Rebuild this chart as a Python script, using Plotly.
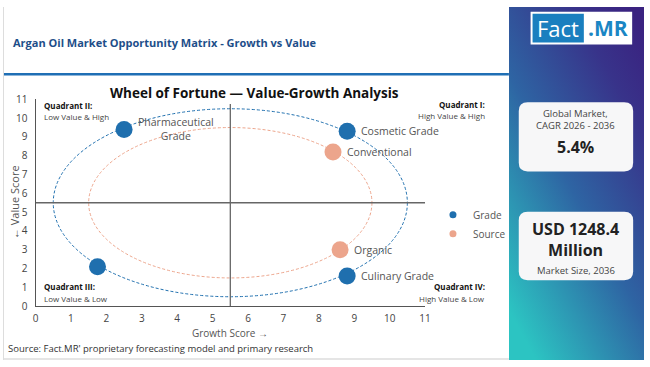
import base64
import plotly.graph_objects as go

W, H = 650, 367

# ---------------- data ----------------
grade_labels = ["Pharmaceutical<br>Grade", "Cosmetic Grade", "Culinary Grade", ""]
grade_x = [2.5, 8.8, 8.8, 1.75]
grade_y = [9.4, 9.3, 1.6, 2.1]

source_labels = ["Conventional", "Organic"]
source_x = [8.4, 8.6]
source_y = [8.2, 3.0]

tick_values = list(range(0, 12))
ring_center = 5.5
grade_ring_radius = 5.0
source_ring_radius = 4.0
quadrant_split = 5.5

quadrants = [
    ("Quadrant II:", "Low Value & High", "left", 40, 102),
    ("Quadrant I:", "High Value & High", "right", 491, 101),
    ("Quadrant III:", "Low Value & Low", "left", 40, 291),
    ("Quadrant IV:", "High Value & Low", "right", 491, 291),
]

cagr_text = "5.4%"
size_text = "USD 1248.4<br>Million"

# ---------------- style ----------------
BLUE = "#1f6fae"
ORANGE = "#eca58c"
FONT = "Open Sans"


def px(x):
    return x / W


def py(y):
    return 1 - y / H


def rounded_rect(x0, y0, x1, y1, r):
    rx, ry = r / W, r / H
    X0, X1 = px(x0), px(x1)
    Y0, Y1 = py(y0), py(y1)  # Y0 top (bigger), Y1 bottom
    return (
        f"M {X0+rx},{Y0} L {X1-rx},{Y0} Q {X1},{Y0} {X1},{Y0-ry} "
        f"L {X1},{Y1+ry} Q {X1},{Y1} {X1-rx},{Y1} "
        f"L {X0+rx},{Y1} Q {X0},{Y1} {X0},{Y1+ry} "
        f"L {X0},{Y0-ry} Q {X0},{Y0} {X0+rx},{Y0} Z"
    )


fig = go.Figure()

fig.add_trace(go.Scatter(x=grade_x, y=grade_y, mode="markers", name="Grade",
                         marker=dict(size=17, color=BLUE), showlegend=False,
                         hovertext=grade_labels))
fig.add_trace(go.Scatter(x=source_x, y=source_y, mode="markers", name="Source",
                         marker=dict(size=17, color=ORANGE), showlegend=False,
                         hovertext=source_labels))
# legend entries with small symbols
fig.add_trace(go.Scatter(x=[None], y=[None], mode="markers", name="Grade",
                         marker=dict(size=7, color=BLUE)))
fig.add_trace(go.Scatter(x=[None], y=[None], mode="markers", name="Source",
                         marker=dict(size=7, color=ORANGE)))

annotations = []
for lab, x, y in list(zip(grade_labels, grade_x, grade_y)) + list(zip(source_labels, source_x, source_y)):
    if lab:
        annotations.append(dict(x=x, y=y, xref="x", yref="y", text=lab, showarrow=False,
                                xanchor="left", yanchor="middle", xshift=12, align="center",
                                font=dict(size=10.5, color="#555", family=FONT)))

for head, sub, side, x, y in quadrants:
    annotations.append(dict(x=px(x), y=py(y), xref="paper", yref="paper", text=f"<b>{head}</b>",
                            showarrow=False, xanchor=side, yanchor="middle",
                            font=dict(size=8, color="#111", family=FONT)))
    annotations.append(dict(x=px(x), y=py(y + 12), xref="paper", yref="paper", text=sub,
                            showarrow=False, xanchor=side, yanchor="middle",
                            font=dict(size=8, color="#444", family=FONT)))

# titles / texts
annotations += [
    dict(x=px(8), y=py(37), xref="paper", yref="paper", xanchor="left", yanchor="middle",
         text="<b>Argan Oil Market Opportunity Matrix - Growth vs Value</b>", showarrow=False,
         font=dict(size=11, color="#1d4e89", family=FONT)),
    dict(x=px(255), y=py(89), xref="paper", yref="paper", xanchor="center", yanchor="middle",
         text="<b>Wheel of Fortune — Value-Growth Analysis</b>", showarrow=False,
         font=dict(size=13.5, color="#111", family=FONT)),
    dict(x=px(230), y=py(339), xref="paper", yref="paper", xanchor="center", yanchor="middle",
         text="Growth Score →", showarrow=False, font=dict(size=10, color="#555", family=FONT)),
    dict(x=px(11), y=py(203), xref="paper", yref="paper", xanchor="center", yanchor="middle",
         text="← Value Score", textangle=-90, showarrow=False,
         font=dict(size=11, color="#555", family=FONT)),
    dict(x=px(3), y=py(355), xref="paper", yref="paper", xanchor="left", yanchor="middle",
         text="Source: Fact.MR' proprietary forecasting model and primary research", showarrow=False,
         font=dict(size=9.5, color="#333", family=FONT)),
    # logo
    dict(x=px(563), y=py(22), xref="paper", yref="paper", xanchor="center", yanchor="middle",
         text="Fact", showarrow=False, font=dict(size=22, color="white", family=FONT)),
    dict(x=px(613), y=py(22), xref="paper", yref="paper", xanchor="center", yanchor="middle",
         text="<b>.MR</b>", showarrow=False, font=dict(size=21, color="#1a86c4", family=FONT)),
    # card 1
    dict(x=px(581), y=py(116.5), xref="paper", yref="paper", xanchor="center", yanchor="middle",
         text="Global Market,<br>CAGR 2026 - 2036", showarrow=False,
         font=dict(size=9.5, color="#444", family=FONT)),
    dict(x=px(581), y=py(146), xref="paper", yref="paper", xanchor="center", yanchor="middle",
         text=f"<b>{cagr_text}</b>", showarrow=False, font=dict(size=16, color="#222", family=FONT)),
    # card 2
    dict(x=px(581), y=py(242), xref="paper", yref="paper", xanchor="center", yanchor="middle",
         text=f"<b>{size_text}</b>", showarrow=False, font=dict(size=16, color="#222", family=FONT)),
    dict(x=px(581), y=py(274), xref="paper", yref="paper", xanchor="center", yanchor="middle",
         text="Market Size, 2036", showarrow=False, font=dict(size=9.5, color="#444", family=FONT)),
]

shapes = [
    # rings
    dict(type="circle", xref="x", yref="y", layer="below",
         x0=ring_center - grade_ring_radius, x1=ring_center + grade_ring_radius,
         y0=ring_center - grade_ring_radius, y1=ring_center + grade_ring_radius,
         line=dict(color=BLUE, width=1, dash="3px,2px")),
    dict(type="circle", xref="x", yref="y", layer="below",
         x0=ring_center - source_ring_radius, x1=ring_center + source_ring_radius,
         y0=ring_center - source_ring_radius, y1=ring_center + source_ring_radius,
         line=dict(color=ORANGE, width=1, dash="3px,2px")),
    # quadrant lines
    dict(type="line", xref="x", yref="y", layer="below", x0=quadrant_split, x1=quadrant_split,
         y0=0, y1=10.75, line=dict(color="#666", width=1.3)),
    dict(type="line", xref="x", yref="y", layer="below", x0=0, x1=11,
         y0=quadrant_split, y1=quadrant_split, line=dict(color="#666", width=1.3)),
    # header rule
    dict(type="line", xref="paper", yref="paper", x0=0, x1=px(513), y0=py(70), y1=py(70),
         line=dict(color="#1f6fb5", width=2.5)),
    # borders
    dict(type="line", xref="paper", yref="paper", x0=px(0.5), x1=px(0.5), y0=0, y1=1,
         line=dict(color="#ddd", width=1)),
    dict(type="line", xref="paper", yref="paper", x0=0, x1=px(513), y0=py(366), y1=py(366),
         line=dict(color="#ddd", width=1.5)),
    # logo boxes
    dict(type="rect", xref="paper", yref="paper", x0=px(535), x1=px(638), y0=py(39), y1=py(5),
         fillcolor="white", line=dict(width=0)),
    dict(type="rect", xref="paper", yref="paper", x0=px(537), x1=px(589), y0=py(37), y1=py(7),
         fillcolor="#1a7fbf", line=dict(width=0)),
    # cards
    dict(type="path", xref="paper", yref="paper", path=rounded_rect(523, 99, 639, 171, 9),
         fillcolor="#f7f7f8", line=dict(width=0)),
    dict(type="path", xref="paper", yref="paper", path=rounded_rect(523, 213, 639, 284, 9),
         fillcolor="#f7f7f8", line=dict(width=0)),
]

svg = (
    "<svg xmlns='http://www.w3.org/2000/svg' width='137' height='367' preserveAspectRatio='none'>"
    "<defs><linearGradient id='g' x1='0.9' y1='0' x2='0.2' y2='1'>"
    "<stop offset='0' stop-color='#3a2280'/>"
    "<stop offset='0.2' stop-color='#38338a'/>"
    "<stop offset='0.55' stop-color='#2e64a3'/>"
    "<stop offset='1' stop-color='#2cc4c2'/>"
    "</linearGradient></defs><rect width='137' height='367' fill='url(#g)'/></svg>"
)
svg_uri = "data:image/svg+xml;base64," + base64.b64encode(svg.encode()).decode()

axis_common = dict(range=[0, 11], tickvals=tick_values, showline=True, linecolor="#555",
                   linewidth=1, showgrid=False, zeroline=False, ticks="",
                   tickfont=dict(size=10, color="#444", family=FONT), fixedrange=True)

fig.update_layout(
    width=W, height=H, margin=dict(l=0, r=0, t=0, b=0),
    paper_bgcolor="white", plot_bgcolor="white",
    font=dict(family=FONT),
    xaxis=dict(domain=[px(33), px(428)], ticklabelstandoff=3, **axis_common),
    yaxis=dict(domain=[py(311), py(96)], ticklabelstandoff=5, **axis_common),
    showlegend=True,
    legend=dict(x=px(436), y=py(201), xanchor="left", yanchor="top",
                font=dict(size=10, color="#555", family=FONT), bgcolor="rgba(0,0,0,0)"),
    annotations=annotations, shapes=shapes,
    images=[dict(source=svg_uri, xref="paper", yref="paper", x=px(513), y=1,
                 sizex=137 / W, sizey=1, sizing="stretch", xanchor="left", yanchor="top",
                 layer="below")],
)

fig.write_html("out.html", config={"displayModeBar": False})

# remove the default page margin so the figure sits at the window origin
with open("out.html", "r", encoding="utf-8") as f:
    html = f.read()
html = html.replace("<head>", "<head><style>html,body{margin:0;padding:0;overflow:hidden;}</style>", 1)
with open("out.html", "w", encoding="utf-8") as f:
    f.write(html)
